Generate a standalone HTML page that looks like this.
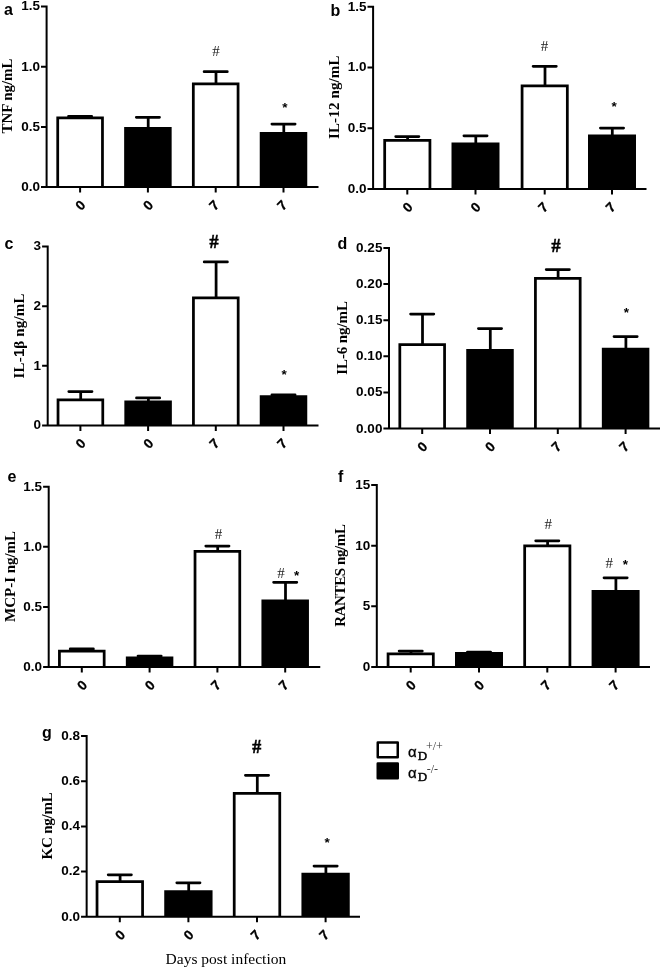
<!DOCTYPE html>
<html lang="en">
<head>
<meta charset="utf-8">
<title>Cytokine levels</title>
<style>
html,body{margin:0;padding:0;background:#fff;}
body{width:663px;height:969px;overflow:hidden;}
svg{display:block;}
.tk{font-family:"Liberation Sans", Arial, Helvetica, sans-serif;font-weight:bold;font-size:13.5px;fill:#000;}
.pl{font-family:"Liberation Sans", Arial, Helvetica, sans-serif;font-weight:bold;font-size:16px;fill:#000;}
.yl{font-family:"Liberation Serif", "Times New Roman", Times, serif;font-weight:bold;font-size:15px;fill:#000;}
.s1{font-family:"Liberation Sans", Arial, Helvetica, sans-serif;}
.xk{font-family:"Liberation Sans", Arial, Helvetica, sans-serif;font-weight:bold;font-size:13.5px;fill:#000;stroke:#000;stroke-width:0.3px;}
.hs{font-family:"Liberation Serif", "Times New Roman", Times, serif;font-size:15px;fill:#222;}
.hb{font-family:"Liberation Serif", "Times New Roman", Times, serif;font-weight:bold;font-size:18px;fill:#000;stroke:#000;stroke-width:0.5px;}
.st{font-family:"Liberation Sans", Arial, Helvetica, sans-serif;font-weight:bold;font-size:13.5px;fill:#000;}
.xl{font-family:"Liberation Serif", "Times New Roman", Times, serif;font-size:15.5px;fill:#000;}
.la{font-family:"Liberation Sans", Arial, Helvetica, sans-serif;font-size:15px;fill:#000;stroke:#000;stroke-width:0.3px;}
.ld{font-family:"Liberation Serif", "Times New Roman", Times, serif;font-size:13px;fill:#000;stroke:#000;stroke-width:0.45px;}
.lp{font-family:"Liberation Serif", "Times New Roman", Times, serif;font-size:12px;fill:#333;}
</style>
</head>
<body>
<svg width="663" height="969" viewBox="0 0 663 969">
<rect width="663" height="969" fill="#fff"/>
<g id="panel-a">
<path d="M80.40 117.78V116.28M68.50 116.28H91.70" stroke="#000" stroke-width="2.75" stroke-linecap="round" fill="none"/>
<path d="M57.72 187.10V117.78H102.47V187.10" fill="#fff" stroke="#000" stroke-width="2.75" stroke-linejoin="miter"/>
<path d="M148.20 128.28V117.28M136.30 117.28H159.50" stroke="#000" stroke-width="2.75" stroke-linecap="round" fill="none"/>
<path d="M125.52 187.10V128.28H170.27V187.10" fill="#000" stroke="#000" stroke-width="2.75" stroke-linejoin="miter"/>
<path d="M216.00 83.98V71.68M204.10 71.68H227.30" stroke="#000" stroke-width="2.75" stroke-linecap="round" fill="none"/>
<path d="M193.32 187.10V83.98H238.07V187.10" fill="#fff" stroke="#000" stroke-width="2.75" stroke-linejoin="miter"/>
<path d="M283.80 133.28V124.03M271.90 124.03H295.10" stroke="#000" stroke-width="2.75" stroke-linecap="round" fill="none"/>
<path d="M261.12 187.10V133.28H305.88V187.10" fill="#000" stroke="#000" stroke-width="2.75" stroke-linejoin="miter"/>
<path d="M46.60 5.50V187.10H318.50M41.00 6.50H46.60M41.00 66.70H46.60M41.00 126.90H46.60M41.00 187.10H46.60M80.10 187.10V192.60M147.90 187.10V192.60M215.70 187.10V192.60M283.50 187.10V192.60" stroke="#000" stroke-width="2" fill="none" stroke-linecap="butt"/>
<text class="tk" x="40.00" y="10.40" text-anchor="end">1.5</text>
<text class="tk" x="40.00" y="70.60" text-anchor="end">1.0</text>
<text class="tk" x="40.00" y="130.80" text-anchor="end">0.5</text>
<text class="tk" x="40.00" y="191.00" text-anchor="end">0.0</text>
<text class="xk" text-anchor="middle" transform="translate(80.50 205.50) rotate(-45)" y="4.4">0</text>
<text class="xk" text-anchor="middle" transform="translate(148.30 205.50) rotate(-45)" y="4.4">0</text>
<text class="xk" text-anchor="middle" transform="translate(214.40 205.50) rotate(-45)" y="4.4">7</text>
<text class="xk" text-anchor="middle" transform="translate(282.20 205.50) rotate(-45)" y="4.4">7</text>
<text class="pl" x="4.00" y="14.50">a</text>
<text class="yl" textLength="75.0" lengthAdjust="spacing" transform="translate(12.40 133.50) rotate(-90)">TNF ng/mL</text>
<text class="hs" text-anchor="middle" x="216.00" y="55.50">#</text>
<text class="st" text-anchor="middle" x="284.80" y="112.20">*</text>
</g>
<g id="panel-b">
<path d="M407.60 140.28V136.53M395.70 136.53H418.90" stroke="#000" stroke-width="2.75" stroke-linecap="round" fill="none"/>
<path d="M384.68 189.00V140.28H429.93V189.00" fill="#fff" stroke="#000" stroke-width="2.75" stroke-linejoin="miter"/>
<path d="M475.80 143.78V135.78M463.90 135.78H487.10" stroke="#000" stroke-width="2.75" stroke-linecap="round" fill="none"/>
<path d="M452.88 189.00V143.78H498.12V189.00" fill="#000" stroke="#000" stroke-width="2.75" stroke-linejoin="miter"/>
<path d="M545.00 85.78V66.28M533.10 66.28H556.30" stroke="#000" stroke-width="2.75" stroke-linecap="round" fill="none"/>
<path d="M522.08 189.00V85.78H567.33V189.00" fill="#fff" stroke="#000" stroke-width="2.75" stroke-linejoin="miter"/>
<path d="M612.30 135.78V128.03M600.40 128.03H623.60" stroke="#000" stroke-width="2.75" stroke-linecap="round" fill="none"/>
<path d="M589.38 189.00V135.78H634.62V189.00" fill="#000" stroke="#000" stroke-width="2.75" stroke-linejoin="miter"/>
<path d="M373.10 5.65V189.00H646.50M367.50 6.65H373.10M367.50 67.43H373.10M367.50 128.22H373.10M367.50 189.00H373.10M407.30 189.00V194.50M475.50 189.00V194.50M544.70 189.00V194.50M612.00 189.00V194.50" stroke="#000" stroke-width="2" fill="none" stroke-linecap="butt"/>
<text class="tk" x="366.50" y="10.55" text-anchor="end">1.5</text>
<text class="tk" x="366.50" y="71.33" text-anchor="end">1.0</text>
<text class="tk" x="366.50" y="132.12" text-anchor="end">0.5</text>
<text class="tk" x="366.50" y="192.90" text-anchor="end">0.0</text>
<text class="xk" text-anchor="middle" transform="translate(407.70 207.40) rotate(-45)" y="4.4">0</text>
<text class="xk" text-anchor="middle" transform="translate(475.90 207.40) rotate(-45)" y="4.4">0</text>
<text class="xk" text-anchor="middle" transform="translate(543.40 207.40) rotate(-45)" y="4.4">7</text>
<text class="xk" text-anchor="middle" transform="translate(610.70 207.40) rotate(-45)" y="4.4">7</text>
<text class="pl" x="330.50" y="16.00">b</text>
<text class="yl" textLength="83.5" lengthAdjust="spacing" transform="translate(338.70 139.00) rotate(-90)">IL-12 ng/mL</text>
<text class="hs" text-anchor="middle" x="544.50" y="51.00">#</text>
<text class="st" text-anchor="middle" x="614.05" y="110.75">*</text>
</g>
<g id="panel-c">
<path d="M80.70 399.77V391.57M68.80 391.57H92.00" stroke="#000" stroke-width="2.75" stroke-linecap="round" fill="none"/>
<path d="M58.03 425.40V399.77H102.78V425.40" fill="#fff" stroke="#000" stroke-width="2.75" stroke-linejoin="miter"/>
<path d="M148.40 401.77V397.97M136.50 397.97H159.70" stroke="#000" stroke-width="2.75" stroke-linecap="round" fill="none"/>
<path d="M125.73 425.40V401.77H170.48V425.40" fill="#000" stroke="#000" stroke-width="2.75" stroke-linejoin="miter"/>
<path d="M216.10 297.97V261.97M204.20 261.97H227.40" stroke="#000" stroke-width="2.75" stroke-linecap="round" fill="none"/>
<path d="M193.43 425.40V297.97H238.18V425.40" fill="#fff" stroke="#000" stroke-width="2.75" stroke-linejoin="miter"/>
<path d="M283.80 396.62V394.88M271.90 394.88H295.10" stroke="#000" stroke-width="2.75" stroke-linecap="round" fill="none"/>
<path d="M261.12 425.40V396.62H305.88V425.40" fill="#000" stroke="#000" stroke-width="2.75" stroke-linejoin="miter"/>
<path d="M47.70 245.50V425.40H318.50M42.10 246.50H47.70M42.10 306.13H47.70M42.10 365.77H47.70M42.10 425.40H47.70M80.40 425.40V430.90M148.10 425.40V430.90M215.80 425.40V430.90M283.50 425.40V430.90" stroke="#000" stroke-width="2" fill="none" stroke-linecap="butt"/>
<text class="tk" x="41.10" y="250.40" text-anchor="end">3</text>
<text class="tk" x="41.10" y="310.03" text-anchor="end">2</text>
<text class="tk" x="41.10" y="369.67" text-anchor="end">1</text>
<text class="tk" x="41.10" y="429.30" text-anchor="end">0</text>
<text class="xk" text-anchor="middle" transform="translate(80.80 443.80) rotate(-45)" y="4.4">0</text>
<text class="xk" text-anchor="middle" transform="translate(148.50 443.80) rotate(-45)" y="4.4">0</text>
<text class="xk" text-anchor="middle" transform="translate(214.50 443.80) rotate(-45)" y="4.4">7</text>
<text class="xk" text-anchor="middle" transform="translate(282.20 443.80) rotate(-45)" y="4.4">7</text>
<text class="pl" x="4.50" y="248.70">c</text>
<text class="yl" textLength="84.8" lengthAdjust="spacing" transform="translate(23.50 378.40) rotate(-90)">IL-<tspan class="s1">1</tspan>β ng/mL</text>
<text class="hb" text-anchor="middle" x="214.00" y="248.00">#</text>
<text class="st" text-anchor="middle" x="284.05" y="379.40">*</text>
</g>
<g id="panel-d">
<path d="M422.50 344.52V314.02M410.60 314.02H433.80" stroke="#000" stroke-width="2.75" stroke-linecap="round" fill="none"/>
<path d="M399.82 428.60V344.52H444.57V428.60" fill="#fff" stroke="#000" stroke-width="2.75" stroke-linejoin="miter"/>
<path d="M490.30 350.27V328.52M478.40 328.52H501.60" stroke="#000" stroke-width="2.75" stroke-linecap="round" fill="none"/>
<path d="M467.62 428.60V350.27H512.38V428.60" fill="#000" stroke="#000" stroke-width="2.75" stroke-linejoin="miter"/>
<path d="M558.10 278.27V269.52M546.20 269.52H569.40" stroke="#000" stroke-width="2.75" stroke-linecap="round" fill="none"/>
<path d="M535.42 428.60V278.27H580.17V428.60" fill="#fff" stroke="#000" stroke-width="2.75" stroke-linejoin="miter"/>
<path d="M625.90 349.02V336.52M614.00 336.52H637.20" stroke="#000" stroke-width="2.75" stroke-linecap="round" fill="none"/>
<path d="M603.22 428.60V349.02H647.97V428.60" fill="#000" stroke="#000" stroke-width="2.75" stroke-linejoin="miter"/>
<path d="M389.00 247.00V428.60H660.00M383.40 248.00H389.00M383.40 284.12H389.00M383.40 320.24H389.00M383.40 356.36H389.00M383.40 392.48H389.00M383.40 428.60H389.00M422.20 428.60V434.10M490.00 428.60V434.10M557.80 428.60V434.10M625.60 428.60V434.10" stroke="#000" stroke-width="2" fill="none" stroke-linecap="butt"/>
<text class="tk" x="382.40" y="251.90" text-anchor="end">0.25</text>
<text class="tk" x="382.40" y="288.02" text-anchor="end">0.20</text>
<text class="tk" x="382.40" y="324.14" text-anchor="end">0.15</text>
<text class="tk" x="382.40" y="360.26" text-anchor="end">0.10</text>
<text class="tk" x="382.40" y="396.38" text-anchor="end">0.05</text>
<text class="tk" x="382.40" y="432.50" text-anchor="end">0.00</text>
<text class="xk" text-anchor="middle" transform="translate(422.60 447.00) rotate(-45)" y="4.4">0</text>
<text class="xk" text-anchor="middle" transform="translate(490.40 447.00) rotate(-45)" y="4.4">0</text>
<text class="xk" text-anchor="middle" transform="translate(556.50 447.00) rotate(-45)" y="4.4">7</text>
<text class="xk" text-anchor="middle" transform="translate(624.30 447.00) rotate(-45)" y="4.4">7</text>
<text class="pl" x="337.50" y="249.00">d</text>
<text class="yl" textLength="73.7" lengthAdjust="spacing" transform="translate(347.20 374.75) rotate(-90)">IL-6 ng/mL</text>
<text class="hb" text-anchor="middle" x="556.00" y="252.00">#</text>
<text class="st" text-anchor="middle" x="626.30" y="317.20">*</text>
</g>
<g id="panel-e">
<path d="M82.10 651.17V648.88M70.20 648.88H93.40" stroke="#000" stroke-width="2.75" stroke-linecap="round" fill="none"/>
<path d="M59.42 667.00V651.17H104.17V667.00" fill="#fff" stroke="#000" stroke-width="2.75" stroke-linejoin="miter"/>
<path d="M149.90 657.77V656.02M138.00 656.02H161.20" stroke="#000" stroke-width="2.75" stroke-linecap="round" fill="none"/>
<path d="M127.22 667.00V657.77H171.97V667.00" fill="#000" stroke="#000" stroke-width="2.75" stroke-linejoin="miter"/>
<path d="M217.70 551.27V546.02M205.80 546.02H229.00" stroke="#000" stroke-width="2.75" stroke-linecap="round" fill="none"/>
<path d="M195.02 667.00V551.27H239.77V667.00" fill="#fff" stroke="#000" stroke-width="2.75" stroke-linejoin="miter"/>
<path d="M285.50 600.77V582.27M273.60 582.27H296.80" stroke="#000" stroke-width="2.75" stroke-linecap="round" fill="none"/>
<path d="M262.82 667.00V600.77H307.57V667.00" fill="#000" stroke="#000" stroke-width="2.75" stroke-linejoin="miter"/>
<path d="M48.70 485.80V667.00H320.25M43.10 486.80H48.70M43.10 546.87H48.70M43.10 606.93H48.70M43.10 667.00H48.70M81.80 667.00V672.50M149.60 667.00V672.50M217.40 667.00V672.50M285.20 667.00V672.50" stroke="#000" stroke-width="2" fill="none" stroke-linecap="butt"/>
<text class="tk" x="42.10" y="490.70" text-anchor="end">1.5</text>
<text class="tk" x="42.10" y="550.77" text-anchor="end">1.0</text>
<text class="tk" x="42.10" y="610.83" text-anchor="end">0.5</text>
<text class="tk" x="42.10" y="670.90" text-anchor="end">0.0</text>
<text class="xk" text-anchor="middle" transform="translate(82.20 685.40) rotate(-45)" y="4.4">0</text>
<text class="xk" text-anchor="middle" transform="translate(150.00 685.40) rotate(-45)" y="4.4">0</text>
<text class="xk" text-anchor="middle" transform="translate(216.10 685.40) rotate(-45)" y="4.4">7</text>
<text class="xk" text-anchor="middle" transform="translate(283.90 685.40) rotate(-45)" y="4.4">7</text>
<text class="pl" x="7.50" y="481.70">e</text>
<text class="yl" textLength="91.0" lengthAdjust="spacing" transform="translate(14.90 621.90) rotate(-90)">MCP-I ng/mL</text>
<text class="hs" text-anchor="middle" x="218.50" y="539.00">#</text>
<text class="hs" text-anchor="middle" x="281.00" y="577.50">#</text>
<text class="st" text-anchor="middle" x="296.55" y="579.50">*</text>
</g>
<g id="panel-f">
<path d="M411.00 653.88V651.07M399.10 651.07H422.30" stroke="#000" stroke-width="2.75" stroke-linecap="round" fill="none"/>
<path d="M388.07 667.00V653.88H433.32V667.00" fill="#fff" stroke="#000" stroke-width="2.75" stroke-linejoin="miter"/>
<path d="M479.30 653.27V652.02M467.40 652.02H490.60" stroke="#000" stroke-width="2.75" stroke-linecap="round" fill="none"/>
<path d="M456.38 667.00V653.27H501.62V667.00" fill="#000" stroke="#000" stroke-width="2.75" stroke-linejoin="miter"/>
<path d="M547.60 545.77V540.77M535.70 540.77H558.90" stroke="#000" stroke-width="2.75" stroke-linecap="round" fill="none"/>
<path d="M524.67 667.00V545.77H569.92V667.00" fill="#fff" stroke="#000" stroke-width="2.75" stroke-linejoin="miter"/>
<path d="M615.90 591.27V577.77M604.00 577.77H627.20" stroke="#000" stroke-width="2.75" stroke-linecap="round" fill="none"/>
<path d="M592.97 667.00V591.27H638.22V667.00" fill="#000" stroke="#000" stroke-width="2.75" stroke-linejoin="miter"/>
<path d="M376.80 484.00V667.00H650.00M371.20 485.00H376.80M371.20 545.67H376.80M371.20 606.33H376.80M371.20 667.00H376.80M410.70 667.00V672.50M479.00 667.00V672.50M547.30 667.00V672.50M615.60 667.00V672.50" stroke="#000" stroke-width="2" fill="none" stroke-linecap="butt"/>
<text class="tk" x="370.20" y="488.90" text-anchor="end">15</text>
<text class="tk" x="370.20" y="549.57" text-anchor="end">10</text>
<text class="tk" x="370.20" y="610.23" text-anchor="end">5</text>
<text class="tk" x="370.20" y="670.90" text-anchor="end">0</text>
<text class="xk" text-anchor="middle" transform="translate(411.10 685.40) rotate(-45)" y="4.4">0</text>
<text class="xk" text-anchor="middle" transform="translate(479.40 685.40) rotate(-45)" y="4.4">0</text>
<text class="xk" text-anchor="middle" transform="translate(546.00 685.40) rotate(-45)" y="4.4">7</text>
<text class="xk" text-anchor="middle" transform="translate(614.30 685.40) rotate(-45)" y="4.4">7</text>
<text class="pl" x="338.00" y="481.70">f</text>
<text class="yl" textLength="102.8" lengthAdjust="spacing" transform="translate(345.10 626.80) rotate(-90)">RANTES ng/mL</text>
<text class="hs" text-anchor="middle" x="548.25" y="528.50">#</text>
<text class="hs" text-anchor="middle" x="609.25" y="568.00">#</text>
<text class="st" text-anchor="middle" x="625.30" y="568.60">*</text>
</g>
<g id="panel-g">
<path d="M120.10 881.52V874.77M108.20 874.77H131.40" stroke="#000" stroke-width="2.75" stroke-linecap="round" fill="none"/>
<path d="M97.03 916.75V881.52H142.57V916.75" fill="#fff" stroke="#000" stroke-width="2.75" stroke-linejoin="miter"/>
<path d="M188.70 891.52V882.77M176.80 882.77H200.00" stroke="#000" stroke-width="2.75" stroke-linecap="round" fill="none"/>
<path d="M165.62 916.75V891.52H211.17V916.75" fill="#000" stroke="#000" stroke-width="2.75" stroke-linejoin="miter"/>
<path d="M257.30 793.27V775.27M245.40 775.27H268.60" stroke="#000" stroke-width="2.75" stroke-linecap="round" fill="none"/>
<path d="M234.22 916.75V793.27H279.77V916.75" fill="#fff" stroke="#000" stroke-width="2.75" stroke-linejoin="miter"/>
<path d="M325.90 874.02V866.02M314.00 866.02H337.20" stroke="#000" stroke-width="2.75" stroke-linecap="round" fill="none"/>
<path d="M302.82 916.75V874.02H348.37V916.75" fill="#000" stroke="#000" stroke-width="2.75" stroke-linejoin="miter"/>
<path d="M86.65 735.00V916.75H360.00M81.05 736.00H86.65M81.05 781.19H86.65M81.05 826.38H86.65M81.05 871.56H86.65M81.05 916.75H86.65M119.80 916.75V922.25M188.40 916.75V922.25M257.00 916.75V922.25M325.60 916.75V922.25" stroke="#000" stroke-width="2" fill="none" stroke-linecap="butt"/>
<text class="tk" x="80.05" y="739.90" text-anchor="end">0.8</text>
<text class="tk" x="80.05" y="785.09" text-anchor="end">0.6</text>
<text class="tk" x="80.05" y="830.27" text-anchor="end">0.4</text>
<text class="tk" x="80.05" y="875.46" text-anchor="end">0.2</text>
<text class="tk" x="80.05" y="920.65" text-anchor="end">0.0</text>
<text class="xk" text-anchor="middle" transform="translate(120.20 935.15) rotate(-45)" y="4.4">0</text>
<text class="xk" text-anchor="middle" transform="translate(188.80 935.15) rotate(-45)" y="4.4">0</text>
<text class="xk" text-anchor="middle" transform="translate(255.70 935.15) rotate(-45)" y="4.4">7</text>
<text class="xk" text-anchor="middle" transform="translate(324.30 935.15) rotate(-45)" y="4.4">7</text>
<text class="pl" x="42.00" y="738.00">g</text>
<text class="yl" textLength="67.1" lengthAdjust="spacing" transform="translate(52.00 859.40) rotate(-90)">KC ng/mL</text>
<text class="hb" text-anchor="middle" x="256.75" y="752.50">#</text>
<text class="st" text-anchor="middle" x="327.05" y="847.10">*</text>
</g>
<text class="xl" x="165.6" y="964.3" textLength="120.6" lengthAdjust="spacing">Days post infection</text>
<g id="legend">
<rect x="377.75" y="742.5" width="20" height="14.75" fill="#fff" stroke="#000" stroke-width="2.5" stroke-linejoin="round"/>
<rect x="377.75" y="763.5" width="20" height="14.75" fill="#000" stroke="#000" stroke-width="2.5" stroke-linejoin="round"/>
<text class="la" x="408" y="757">α</text>
<text class="ld" x="417.7" y="760.3">D</text>
<text class="lp" x="426" y="750.3">+/+</text>
<text class="la" x="408" y="777.5">α</text>
<text class="ld" x="417.7" y="780.8">D</text>
<text class="lp" x="426.7" y="773">-/-</text>
</g>
</svg>
</body>
</html>
